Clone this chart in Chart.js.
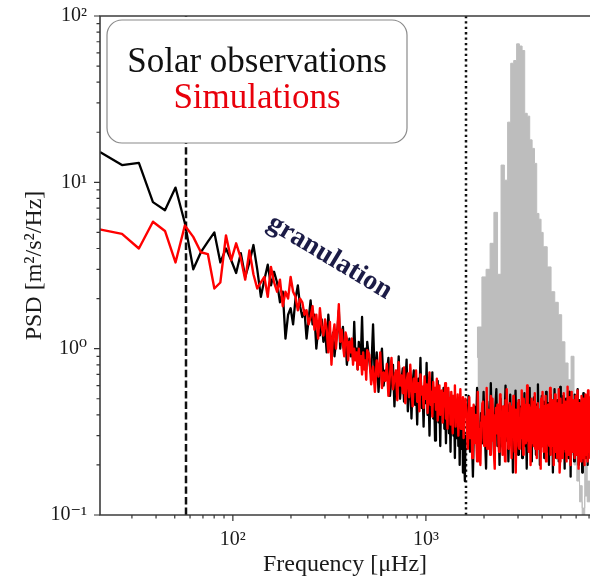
<!DOCTYPE html>
<html>
<head>
<meta charset="utf-8">
<script src="https://cdn.jsdelivr.net/npm/chart.js@4.4.1/dist/chart.umd.min.js"></script>
<style>
  html, body { margin: 0; padding: 0; background: #fff; }
  #wrap { width: 590px; height: 577px; overflow: hidden; }
  canvas { display: block; }
</style>
</head>
<body>
<div id="wrap"><canvas id="psd" width="590" height="577"></canvas></div>
<script>
// ---- frequency grid of the spectra [µHz] ----
const FREQ_START = 20.7;     // centre of the first bin
const BIN_LOW = 5.95;        // native resolution, up to ~0.5 mHz
const BIN_MID = 11.9;        // 2-bin averages, up to ~1.6 mHz
const BIN_HIGH = 29.75;      // 5-bin averages above that (observations)
const BIN_HIGH_SIM = 14.875; // simulations keep a finer grid there

// ---- axis ranges ----
const X_MIN = 20.5, X_MAX = 7080;
const Y_MIN = 0.1, Y_MAX = 100;
const X_DECADES = [100, 1000];
const Y_DECADES = [0.1, 1, 10, 100];

// ---- reference frequencies (vertical markers) ----
const F_DASHED = 57.5;
const F_DOTTED = 1610;

// ---- annotation anchor (frequency, PSD) ----
const GRAN_LABEL_AT = [318, 3.55];

// ---- solar observations, PSD [m^2/s^2/Hz] ----
const obsLow = [
  15.1, 12.7, 13.1, 7.6, 6.8, 9.3, 5.7, 3.0, 3.8, 4.4,
  5.0, 3.3, 4.0, 3.4, 2.85, 3.75, 2.7, 3.3, 4.2, 3.0,
  2.05, 2.6, 3.2, 2.4, 2.9, 2.5, 1.9, 2.2, 1.15, 1.6,
  1.75, 1.4, 2.0, 2.4, 1.8, 1.55, 1.7, 1.15, 1.5, 1.95,
  1.4, 1.6, 1.0, 1.3, 1.2, 1.5, 1.1, 1.3, 0.95, 1.6,
  1.2, 1.05, 1.25, 0.9, 1.1, 1.3, 1.7, 1.0, 1.2, 1.35,
  0.95, 1.1, 0.8, 1.0, 1.15, 0.9, 1.05, 0.85, 1.45, 0.9,
  1.0, 0.75, 1.1, 0.85, 0.95, 1.55, 0.9, 0.8, 1.0, 0.75,
  1.1
];
const obsMid = [
  0.85, 0.70, 1.40, 0.62, 0.95, 0.55, 0.78, 1.00, 0.60, 0.74,
  0.71, 0.88, 0.52, 0.66, 0.80, 0.45, 0.72, 0.58, 0.90, 0.50,
  0.64, 0.76, 0.48, 0.60, 0.86, 0.42, 0.55, 0.68, 0.38, 0.62,
  0.74, 0.46, 0.58, 0.35, 0.66, 0.52, 0.88, 0.44, 0.57, 0.34,
  0.60, 0.47, 0.82, 0.40, 0.53, 0.30, 0.62, 0.45, 0.72, 0.38,
  0.50, 0.28, 0.56, 0.43, 0.64, 0.36, 0.48, 0.26, 0.54, 0.40,
  0.46, 0.58, 0.33, 0.50, 0.27, 0.44, 0.38, 0.55, 0.31, 0.42,
  0.24, 0.47, 0.36, 0.52, 0.30, 0.40, 0.22, 0.45, 0.34, 0.29,
  0.48, 0.26, 0.38, 0.20, 0.42, 0.33, 0.25, 0.44, 0.18, 0.36,
  0.22, 0.16, 0.30
];
const obsHigh = [
  0.30, 0.52, 0.24, 0.38, 0.17, 0.45, 0.28, 0.58, 0.33, 0.21,
  0.41, 0.27, 0.55, 0.31, 0.19, 0.48, 0.36, 0.25, 0.62, 0.29,
  0.35, 0.22, 0.44, 0.57, 0.26, 0.39, 0.20, 0.50, 0.32, 0.43,
  0.24, 0.37, 0.60, 0.28, 0.46, 0.21, 0.34, 0.53, 0.30, 0.40,
  0.18, 0.42, 0.33, 0.56, 0.27, 0.38, 0.23, 0.49, 0.35, 0.29,
  0.45, 0.22, 0.39, 0.31, 0.54, 0.26, 0.36, 0.19, 0.47, 0.32,
  0.40, 0.58, 0.25, 0.34, 0.21, 0.44, 0.30, 0.51, 0.27, 0.37,
  0.23, 0.46, 0.33, 0.61, 0.28, 0.39, 0.20, 0.43, 0.31, 0.52,
  0.26, 0.35, 0.48, 0.22, 0.41, 0.30, 0.55, 0.24, 0.38, 0.33,
  0.47, 0.20, 0.36, 0.29, 0.53, 0.25, 0.42, 0.34, 0.18, 0.40,
  0.31, 0.57, 0.27, 0.44, 0.22, 0.37, 0.49, 0.28, 0.35, 0.21,
  0.43, 0.32, 0.59, 0.26, 0.39, 0.23, 0.46, 0.30, 0.52, 0.28,
  0.36, 0.19, 0.41, 0.33, 0.50, 0.25, 0.38, 0.29, 0.45, 0.22,
  0.34, 0.55, 0.27, 0.40, 0.17, 0.44, 0.31, 0.48, 0.24, 0.37,
  0.30, 0.42, 0.21, 0.53, 0.28, 0.36, 0.46, 0.23, 0.39, 0.33,
  0.57, 0.26, 0.35, 0.20, 0.43, 0.31, 0.49, 0.27, 0.38, 0.24,
  0.45, 0.32, 0.18, 0.41, 0.29, 0.54, 0.25, 0.37, 0.34, 0.47,
  0.22, 0.39, 0.30, 0.51, 0.26, 0.43, 0.33, 0.20, 0.48, 0.28,
  0.36, 0.44, 0.27, 0.31, 0.40
];

// ---- simulations, PSD [m^2/s^2/Hz] ----
const simLow = [
  5.2, 4.9, 4.0, 5.8, 5.1, 3.3, 5.5, 4.7, 3.8, 3.7,
  2.3, 2.5, 4.8, 3.4, 4.3, 3.5, 2.6, 3.9, 2.8, 2.3,
  2.5, 2.7, 2.05, 3.1, 2.5, 2.2, 2.6, 1.8, 2.2, 2.0,
  2.7, 2.2, 2.05, 1.7, 2.0, 1.9, 1.6, 1.7, 1.4, 1.55,
  1.8, 1.3, 1.6, 1.15, 1.75, 1.35, 1.2, 1.5, 1.3, 0.95,
  1.45, 0.8, 1.2, 1.4, 1.0, 1.3, 1.85, 1.1, 1.3, 1.05,
  0.9, 1.25, 1.15, 0.85, 1.1, 0.95, 1.15, 0.8, 1.0, 0.85,
  0.95, 0.75, 1.0, 0.8, 0.9, 0.7, 0.95, 0.75, 0.85, 0.65,
  0.98
];
const simMid = [
  0.92, 0.61, 0.78, 0.55, 0.85, 0.68, 0.95, 0.58, 0.72, 0.64,
  0.81, 0.52, 0.70, 0.88, 0.57, 0.66, 0.74, 0.49, 0.83, 0.60,
  0.69, 0.54, 0.77, 0.47, 0.63, 0.71, 0.51, 0.80, 0.58, 0.45,
  0.66, 0.55, 0.74, 0.48, 0.62, 0.42, 0.70, 0.53, 0.59, 0.44,
  0.68, 0.50, 0.61, 0.41, 0.57, 0.72, 0.46, 0.55, 0.39, 0.63,
  0.48, 0.58, 0.43, 0.66, 0.37, 0.52, 0.60, 0.40, 0.49, 0.56,
  0.36, 0.54, 0.45, 0.62, 0.38, 0.47, 0.33, 0.58, 0.42, 0.50,
  0.35, 0.55, 0.44, 0.31, 0.52, 0.40, 0.60, 0.34, 0.46, 0.38,
  0.53, 0.30, 0.45, 0.41, 0.57, 0.33, 0.48, 0.36, 0.51, 0.29,
  0.44, 0.39, 0.50
];
const simHigh = [
  0.42, 0.31, 0.25, 0.38, 0.51, 0.29, 0.30, 0.44, 0.22, 0.35,
  0.46, 0.27, 0.34, 0.40, 0.27, 0.21, 0.55, 0.33, 0.31, 0.24,
  0.20, 0.36, 0.38, 0.47, 0.48, 0.29, 0.26, 0.39, 0.35, 0.30,
  0.58, 0.25, 0.29, 0.43, 0.41, 0.32, 0.23, 0.52, 0.37, 0.28,
  0.50, 0.34, 0.28, 0.22, 0.19, 0.40, 0.44, 0.31, 0.33, 0.46,
  0.40, 0.27, 0.24, 0.36, 0.53, 0.30, 0.36, 0.42, 0.27, 0.23,
  0.45, 0.33, 0.31, 0.26, 0.21, 0.49, 0.39, 0.30, 0.57, 0.35,
  0.30, 0.25, 0.26, 0.41, 0.47, 0.37, 0.34, 0.28, 0.22, 0.45,
  0.41, 0.30, 0.52, 0.38, 0.28, 0.24, 0.36, 0.43, 0.18, 0.33,
  0.43, 0.29, 0.32, 0.47, 0.49, 0.26, 0.25, 0.35, 0.38, 0.31,
  0.29, 0.44, 0.56, 0.32, 0.33, 0.27, 0.23, 0.50, 0.46, 0.36,
  0.35, 0.29, 0.27, 0.41, 0.40, 0.34, 0.60, 0.28, 0.31, 0.37,
  0.24, 0.46, 0.44, 0.30, 0.37, 0.21, 0.20, 0.43, 0.50, 0.33,
  0.30, 0.27, 0.42, 0.36, 0.26, 0.48, 0.35, 0.31, 0.54, 0.25,
  0.28, 0.38, 0.39, 0.23, 0.22, 0.45, 0.47, 0.30, 0.33, 0.41,
  0.25, 0.36, 0.43, 0.29, 0.36, 0.19, 0.21, 0.50, 0.48, 0.26,
  0.32, 0.39, 0.55, 0.33, 0.27, 0.24, 0.38, 0.45, 0.34, 0.29,
  0.29, 0.52, 0.47, 0.21, 0.25, 0.35, 0.40, 0.31, 0.28, 0.44,
  0.46, 0.33, 0.31, 0.28, 0.26, 0.37, 0.42, 0.58, 0.50, 0.30,
  0.23, 0.41, 0.43, 0.35, 0.32, 0.26, 0.27, 0.49, 0.33, 0.20,
  0.41, 0.39, 0.36, 0.29, 0.28, 0.53, 0.24, 0.39, 0.45, 0.37,
  0.45, 0.30, 0.34, 0.22, 0.25, 0.47, 0.34, 0.38, 0.26, 0.57,
  0.32, 0.38, 0.42, 0.18, 0.21, 0.43, 0.50, 0.29, 0.35, 0.31,
  0.25, 0.40, 0.44, 0.31, 0.28, 0.46, 0.22, 0.37, 0.41, 0.54,
  0.42, 0.28, 0.25, 0.33, 0.37, 0.42, 0.24, 0.27, 0.48, 0.30,
  0.36, 0.21, 0.44, 0.40, 0.32, 0.59, 0.27, 0.30, 0.39, 0.23,
  0.45, 0.34, 0.28, 0.25, 0.51, 0.26, 0.38, 0.42, 0.31, 0.47,
  0.20, 0.41, 0.37, 0.35, 0.31, 0.55, 0.29, 0.24, 0.27, 0.43,
  0.33, 0.49, 0.44, 0.26, 0.29, 0.37, 0.22, 0.46, 0.41, 0.30,
  0.40, 0.27, 0.30, 0.52, 0.46, 0.35, 0.23, 0.44, 0.39, 0.31,
  0.56, 0.28, 0.25, 0.39, 0.35, 0.19, 0.42, 0.34, 0.38, 0.47,
  0.25, 0.36, 0.40, 0.30, 0.27, 0.41, 0.27, 0.33, 0.46, 0.21,
  0.38, 0.52, 0.29, 0.35, 0.24, 0.43, 0.31, 0.48, 0.26, 0.37,
  0.44, 0.22, 0.33, 0.50, 0.28, 0.39, 0.20, 0.45, 0.32, 0.36,
  0.27, 0.53, 0.30, 0.41, 0.23, 0.47, 0.35, 0.29, 0.42, 0.25,
  0.38, 0.31, 0.49, 0.21, 0.40, 0.34, 0.56, 0.28, 0.36, 0.44,
  0.24, 0.39, 0.32, 0.46, 0.27, 0.51, 0.30, 0.37, 0.22, 0.41
];

// ---- p-mode hump of the observed spectrum (left bin edges, µHz) ----
const modeFreq = [
  1850, 1950, 2050, 2150, 2250, 2350, 2450, 2550, 2650, 2750,
  2850, 2950, 3050, 3150, 3250, 3350, 3450, 3550, 3650, 3750,
  3850, 3950, 4050, 4250, 4450, 4650, 4850, 5050, 5250, 5450,
  5650, 5850, 6050, 6250, 6450, 6650, 6850, 7050, 7300
];
// upper envelope of the mode peaks
const modePsd = [
  0.88, 1.35, 2.7, 3.0, 4.3, 6.6, 2.8, 12.7, 10.3, 23,
  52, 54, 68, 66, 62, 26, 25, 18, 16, 13,
  6.5, 6.0, 5.0, 4.1, 3.1, 2.2, 1.9, 1.6, 1.1, 0.82,
  0.65, 0.9, 0.4, 0.25, 0.15, 0.11, 0.2, 0.16, 0.16
];
// troughs between the mode peaks
const modeFloor = [
  0.30, 0.30, 0.29, 0.30, 0.31, 0.30, 0.29, 0.30, 0.31, 0.30,
  0.30, 0.29, 0.30, 0.31, 0.30, 0.29, 0.30, 0.30, 0.31, 0.30,
  0.29, 0.30, 0.30, 0.29, 0.30, 0.30, 0.29, 0.28, 0.27, 0.26,
  0.25, 0.23, 0.2, 0.16, 0.12, 0.1, 0.13, 0.12, 0.12
];

// Pair PSD segments with their frequency bins.
function withFrequencies(segments) {
  const pts = [];
  let f = FREQ_START;
  segments.forEach(([vals, width]) => {
    vals.forEach(v => {
      if (pts.length) f += width;
      pts.push({ x: +f.toFixed(3), y: v });
    });
  });
  return pts;
}

const obsPoints = withFrequencies([[obsLow, BIN_LOW], [obsMid, BIN_MID], [obsHigh, BIN_HIGH]]);
const simPoints = withFrequencies([[simLow, BIN_LOW], [simMid, BIN_MID], [simHigh, BIN_HIGH_SIM]]);
const modeTop = modeFreq.map((f, i) => ({ x: f, y: modePsd[i] }));
const modeBottom = modeFreq.map((f, i) => ({ x: f, y: modeFloor[i] }));

const SERIF = '"Liberation Serif", "DejaVu Serif", serif';
const SUP = { '-': '\u207B', '0': '\u2070', '1': '\u00B9', '2': '\u00B2', '3': '\u00B3', '4': '\u2074' };
function decadeLabel(v) {
  const e = Math.round(Math.log10(v));
  return '10' + String(e).split('').map(c => SUP[c]).join('');
}
function minorAndMajor(min, max) {
  const out = [];
  for (let d = -2; d <= 4; d++) {
    for (let m = 1; m <= 9; m++) {
      const v = m * Math.pow(10, d);
      if (v >= min * 0.999 && v <= max * 1.001) out.push({ v, major: m === 1 });
    }
  }
  return out;
}

// Axes frame, outward ticks, marker lines, legend box and annotation.
const framePlugin = {
  id: 'frame',
  beforeDatasetsDraw(chart) {
    const { ctx, chartArea: a, scales: { x } } = chart;
    ctx.save();
    ctx.strokeStyle = '#111';
    ctx.lineWidth = 2.5;
    [[F_DASHED, [7.4, 3.2]], [F_DOTTED, [2.3, 3.1]]].forEach(([f, dash]) => {
      const px = Math.round(x.getPixelForValue(f));
      ctx.setLineDash(dash);
      ctx.beginPath();
      ctx.moveTo(px, a.bottom);
      ctx.lineTo(px, a.top);
      ctx.stroke();
    });
    ctx.restore();
  },
  afterDatasetsDraw(chart) {
    const { ctx, chartArea: a, scales: { x, y } } = chart;
    ctx.save();
    // legend box
    const bx = a.left + 7, by = a.top + 4, bw = 300, bh = 123, r = 15;
    ctx.beginPath();
    ctx.moveTo(bx + r, by);
    ctx.lineTo(bx + bw - r, by);
    ctx.arcTo(bx + bw, by, bx + bw, by + r, r);
    ctx.lineTo(bx + bw, by + bh - r);
    ctx.arcTo(bx + bw, by + bh, bx + bw - r, by + bh, r);
    ctx.lineTo(bx + r, by + bh);
    ctx.arcTo(bx, by + bh, bx, by + bh - r, r);
    ctx.lineTo(bx, by + r);
    ctx.arcTo(bx, by, bx + r, by, r);
    ctx.closePath();
    ctx.fillStyle = '#fff';
    ctx.fill();
    ctx.strokeStyle = '#8a8a8a';
    ctx.lineWidth = 1.2;
    ctx.stroke();
    ctx.font = '35px ' + SERIF;
    ctx.textAlign = 'center';
    ctx.textBaseline = 'alphabetic';
    ctx.fillStyle = '#111';
    ctx.fillText('Solar observations', bx + bw / 2, by + 52);
    ctx.fillStyle = '#e8000b';
    ctx.fillText('Simulations', bx + bw / 2, by + 88);

    // granulation annotation
    const gx = x.getPixelForValue(GRAN_LABEL_AT[0]);
    const gy = y.getPixelForValue(GRAN_LABEL_AT[1]);
    ctx.translate(gx, gy);
    ctx.rotate(31 * Math.PI / 180);
    ctx.font = 'bold 28px ' + SERIF;
    ctx.textBaseline = 'middle';
    ctx.fillStyle = '#1b1b46';
    ctx.fillText('granulation', 0, 0);
    ctx.restore();
  },
  afterDraw(chart) {
    const { ctx, chartArea: a, scales: { x, y } } = chart;
    ctx.save();
    ctx.strokeStyle = '#3c3c3c';
    ctx.lineWidth = 1.6;
    ctx.beginPath();
    ctx.moveTo(a.right, a.top);
    ctx.lineTo(a.left, a.top);
    ctx.lineTo(a.left, a.bottom);
    ctx.lineTo(a.right, a.bottom);
    ctx.stroke();

    ctx.strokeStyle = '#333';
    ctx.lineWidth = 1.2;
    ctx.beginPath();
    minorAndMajor(X_MIN, X_MAX).forEach(({ v, major }) => {
      const px = x.getPixelForValue(v);
      ctx.moveTo(px, a.bottom);
      ctx.lineTo(px, a.bottom + (major ? 6 : 3.5));
    });
    minorAndMajor(Y_MIN, Y_MAX).forEach(({ v, major }) => {
      const py = y.getPixelForValue(v);
      ctx.moveTo(a.left, py);
      ctx.lineTo(a.left - (major ? 6 : 3.5), py);
    });
    ctx.stroke();
    ctx.restore();
  }
};

new Chart(document.getElementById('psd'), {
  type: 'line',
  data: {
    datasets: [
      {
        label: 'Simulations',
        data: simPoints,
        borderColor: '#ff0000',
        borderWidth: 2.4,
        borderJoinStyle: 'round',
        borderCapStyle: 'round',
        pointRadius: 0,
        fill: false
      },
      {
        label: 'Solar observations',
        data: obsPoints,
        borderColor: '#000000',
        borderWidth: 2.3,
        borderJoinStyle: 'round',
        borderCapStyle: 'round',
        pointRadius: 0,
        fill: false
      },
      {
        label: 'p modes',
        data: modeTop,
        stepped: 'after',
        borderColor: '#bdbdbd',
        backgroundColor: '#bdbdbd',
        borderWidth: 1,
        pointRadius: 0,
        fill: '+1'
      },
      {
        label: 'p modes (troughs)',
        data: modeBottom,
        stepped: 'after',
        borderColor: '#bdbdbd',
        borderWidth: 1,
        pointRadius: 0,
        fill: false
      }
    ]
  },
  options: {
    responsive: false,
    animation: false,
    devicePixelRatio: 1,
    layout: { padding: { top: 16, right: 0, left: 0, bottom: 0 } },
    plugins: { legend: { display: false }, tooltip: { enabled: false } },
    scales: {
      x: {
        type: 'logarithmic',
        min: X_MIN,
        max: X_MAX,
        grid: { display: false },
        border: { display: false },
        afterBuildTicks: s => { s.ticks = X_DECADES.map(v => ({ value: v, major: true })); },
        afterFit: s => { s.height = 62; s.paddingLeft = 0; s.paddingRight = 0; },
        ticks: {
          callback: v => decadeLabel(v),
          font: { family: SERIF, size: 20 },
          color: '#1a1a1a',
          padding: 5,
          maxRotation: 0,
          autoSkip: false
        },
        title: {
          display: true,
          text: 'Frequency [\u03BCHz]',
          font: { family: SERIF, size: 24, lineHeight: 1 },
          color: '#1a1a1a',
          padding: { top: 0, bottom: 0 }
        }
      },
      y: {
        type: 'logarithmic',
        min: Y_MIN,
        max: Y_MAX,
        grid: { display: false },
        border: { display: false },
        afterBuildTicks: s => { s.ticks = Y_DECADES.map(v => ({ value: v, major: true })); },
        afterFit: s => { s.width = 100; s.paddingTop = 0; s.paddingBottom = 0; },
        ticks: {
          callback: v => decadeLabel(v),
          font: { family: SERIF, size: 20 },
          color: '#1a1a1a',
          padding: 5,
          autoSkip: false
        },
        title: {
          display: true,
          text: 'PSD [m\u00B2/s\u00B2/Hz]',
          font: { family: SERIF, size: 24, lineHeight: 1 },
          color: '#1a1a1a',
          padding: { top: 23, bottom: 0 }
        }
      }
    }
  },
  plugins: [framePlugin]
});
</script>
</body>
</html>
